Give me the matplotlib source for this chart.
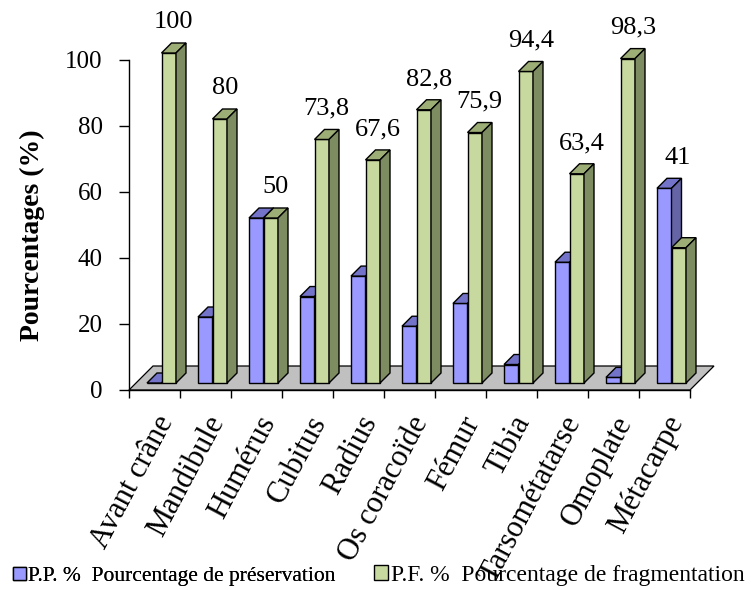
import matplotlib
matplotlib.use("Agg")
import matplotlib.pyplot as plt
from matplotlib.patches import Polygon, Rectangle

categories = ["Avant crâne", "Mandibule", "Humérus", "Cubitus", "Radius", "Os coracoïde",
              "Fémur", "Tibia", "Tarsométatarse", "Omoplate", "Métacarpe"]
pf_values = [100, 80, 50, 73.8, 67.6, 82.8, 75.9, 94.4, 63.4, 98.3, 41]
pp_values = [0, 20, 50, 26.2, 32.4, 17.2, 24.1, 5.6, 36.6, 1.7, 59]

pp_label = "P.P. %  Pourcentage de préservation"
pf_label = "P.F. %  Pourcentage de fragmentation"

BLUE = ("#9999ff", "#7373c9", "#6464a6")   # front, top, side
GREEN = ("#c8d9a0", "#9dad76", "#7e8c62")
FLOOR = "#c0c0c0"

plt.rcParams["font.family"] = ["Liberation Serif", "DejaVu Serif"]

fig = plt.figure(figsize=(7.51, 5.90), dpi=100)
W, H = 751, 590
ax = fig.add_axes([129 / W, 1 - 390 / H, 561 / W, 330 / H])
ax.set_xlim(0, len(categories))
ax.set_ylim(0, 100)

# pixel -> data helpers for the fake depth
px_x = len(categories) / 561
px_y = 100 / 330
floor_dx, floor_dy = 24 * px_x, 24 * px_y
bar_off_y = 7 * px_y
dep_x, dep_y = 10 * px_x, 10 * px_y
bar_left = 18 * px_x
bar_w = 14.5 * px_x

n = len(categories)
ax.add_patch(Polygon([(0, 0), (n, 0), (n + floor_dx, floor_dy), (floor_dx, floor_dy)],
                     closed=True, facecolor=FLOOR, edgecolor="black", lw=0.9,
                     clip_on=False, zorder=1))


def draw_bar(x0, h, colors, z):
    y0 = bar_off_y
    front, top, side = colors
    ax.add_patch(Rectangle((x0, y0), bar_w, h, facecolor=front, edgecolor="black",
                           lw=1.0, clip_on=False, zorder=z))
    ax.add_patch(Polygon([(x0, y0 + h), (x0 + bar_w, y0 + h),
                          (x0 + bar_w + dep_x, y0 + h + dep_y), (x0 + dep_x, y0 + h + dep_y)],
                         closed=True, facecolor=top, edgecolor="black", lw=1.0,
                         clip_on=False, zorder=z))
    ax.add_patch(Polygon([(x0 + bar_w, y0), (x0 + bar_w + dep_x, y0 + dep_y),
                          (x0 + bar_w + dep_x, y0 + h + dep_y), (x0 + bar_w, y0 + h)],
                         closed=True, facecolor=side, edgecolor="black", lw=1.0,
                         clip_on=False, zorder=z))


for i, (pp, pf) in enumerate(zip(pp_values, pf_values)):
    xb = i + bar_left
    z = 2 + i * 2
    draw_bar(xb, pp, BLUE, z)
    draw_bar(xb + bar_w, pf, GREEN, z + 1)
    label = f"{pf:g}".replace(".", ",")
    xc = xb + bar_w + (bar_w + dep_x) / 2
    if pp > pf:
        xc -= 6 * px_x
    ax.text(xc, max(pp, pf) + bar_off_y + dep_y + 6.3, label, ha="center", va="center",
            fontsize=19, clip_on=False, zorder=40)

# axes styling
for s in ("top", "right"):
    ax.spines[s].set_visible(False)
ax.spines["left"].set_linewidth(1.0)
ax.spines["bottom"].set_linewidth(1.0)
ax.set_yticks(range(0, 101, 20))
ax.tick_params(axis="y", length=7, width=1.0, pad=12, labelsize=18)
ax.set_xticks(range(n + 1))
ax.set_xticklabels([])
ax.tick_params(axis="x", length=6, width=1.0)

for i, name in enumerate(categories):
    ax.text(i + 0.5 + 12 * px_x, -28 * px_y, name, rotation=62, rotation_mode="anchor",
            ha="right", va="center", fontsize=22, clip_on=False)

ax.set_ylabel("Pourcentages (%)", fontsize=20, fontweight="bold")
ax.yaxis.set_label_coords(-0.15, 0.47)

# two single-entry legends along the bottom edge
legend_kw = dict(loc="lower left", frameon=False, handlelength=0.6, handleheight=0.6,
                 handletextpad=0.1, borderpad=0, borderaxespad=0)
pp_handle = Rectangle((0, 0), 1, 1, facecolor=BLUE[0], edgecolor="black", lw=1.0)
pf_handle = Rectangle((0, 0), 1, 1, facecolor=GREEN[0], edgecolor="black", lw=1.0)
leg1 = fig.legend([pp_handle], [pp_label], bbox_to_anchor=(13 / W, 4 / H), fontsize=15.5,
                  **legend_kw)
fig.add_artist(leg1)
fig.legend([pf_handle], [pf_label], bbox_to_anchor=(374 / W, 4 / H), fontsize=17,
           **legend_kw)

fig.savefig("out.png", dpi=100)
